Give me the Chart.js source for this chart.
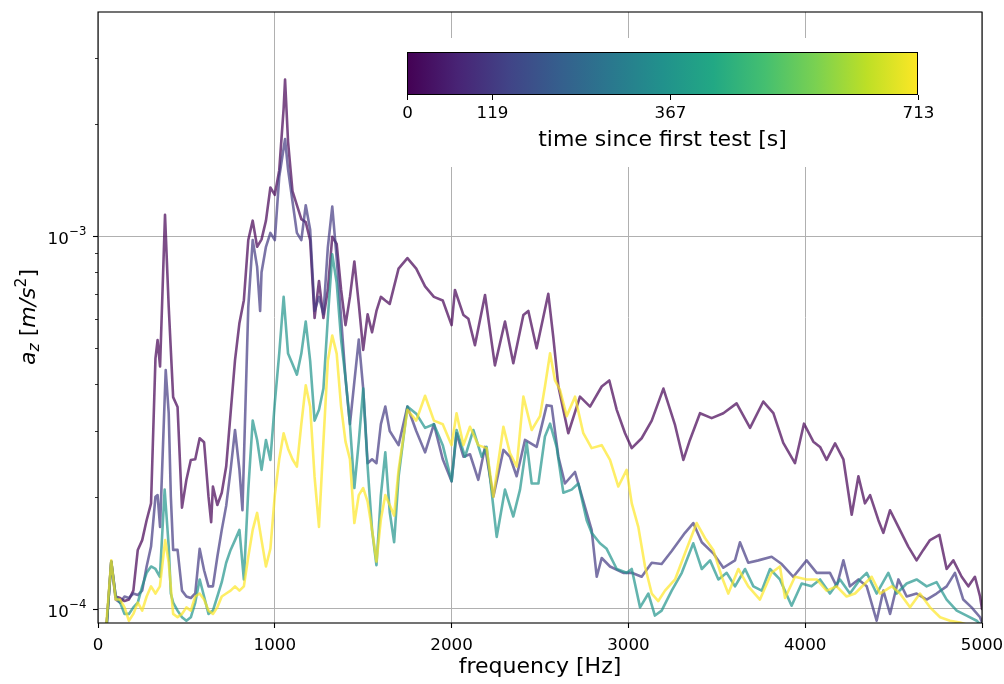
<!DOCTYPE html>
<html>
<head>
<meta charset="utf-8">
<script src="https://cdn.jsdelivr.net/npm/chart.js@4.4.1/dist/chart.umd.min.js"></script>
<style>
  html, body { margin: 0; padding: 0; background: #fff; }
</style>
</head>
<body>
<canvas id="c" width="1004" height="684"></canvas>
<script>
// time since first test [s] for each spectrum
var times = [0, 119, 367, 713];
var xTicks = [0, 1000, 2000, 3000, 4000, 5000];
var yTicks = [1e-4, 1e-3];

var freqT0 = [0,25,50,75,100,125,150,175,200,225,
  250,275,300,325,337,351,379,400,425,450,
  475,500,525,550,575,600,625,640,650,675,
  700,725,750,775,800,825,850,875,900,925,
  950,975,1000,1025,1050,1058,1075,1100,1125,1150,
  1175,1200,1225,1250,1275,1300,1325,1350,1375,1400,
  1425,1450,1475,1500,1525,1550,1575,1600,1625,1650,
  1700,1750,1800,1850,1900,1950,2000,2019,2067,2095,
  2132,2189,2245,2302,2349,2406,2434,2481,2547,2575,
  2604,2660,2726,2783,2849,2892,2934,2981,3019,3075,
  3132,3198,3264,3311,3348,3405,3471,3537,3612,3688,
  3763,3820,3876,3942,3993,4046,4084,4121,4169,4216,
  4263,4301,4338,4367,4414,4442,4480,4527,4583,4630,
  4668,4706,4759,4800,4838,4885,4923,4960,4989,5000];
var azT0 = [4e-5,6e-5,9.2e-5,1.34e-4,1.08e-4,1.07e-4,1.05e-4,1.06e-4,1.12e-4,1.44e-4,
  1.53e-4,1.73e-4,1.92e-4,4.7e-4,5.26e-4,4.47e-4,1.14e-3,6.46e-4,3.7e-4,3.48e-4,
  1.87e-4,2.22e-4,2.51e-4,2.52e-4,2.87e-4,2.8e-4,2.0e-4,1.71e-4,2.13e-4,1.9e-4,
  2.05e-4,2.41e-4,3.35e-4,4.65e-4,5.85e-4,6.73e-4,9.76e-4,1.1e-3,9.36e-4,9.8e-4,
  1.1e-3,1.35e-3,1.29e-3,1.5e-3,2.2e-3,2.63e-3,1.79e-3,1.32e-3,1.21e-3,1.11e-3,
  1.09e-3,9.75e-4,6.03e-4,7.58e-4,6.03e-4,7.18e-4,9.96e-4,9.53e-4,7.18e-4,5.77e-4,
  6.87e-4,8.55e-4,6.58e-4,4.95e-4,6.17e-4,5.52e-4,6.3e-4,6.87e-4,6.72e-4,6.58e-4,
  8.18e-4,8.73e-4,8.18e-4,7.33e-4,6.87e-4,6.72e-4,5.77e-4,7.17e-4,6.14e-4,6.0e-4,
  5.1e-4,6.95e-4,4.5e-4,5.9e-4,4.56e-4,6.14e-4,6.3e-4,5.0e-4,7.0e-4,5.37e-4,
  3.95e-4,2.96e-4,3.71e-4,3.49e-4,3.95e-4,4.1e-4,3.42e-4,2.96e-4,2.7e-4,2.87e-4,
  3.2e-4,3.9e-4,3.11e-4,2.51e-4,2.84e-4,3.35e-4,3.25e-4,3.35e-4,3.56e-4,3.06e-4,
  3.6e-4,3.35e-4,2.79e-4,2.46e-4,3.14e-4,2.81e-4,2.72e-4,2.51e-4,2.78e-4,2.52e-4,
  1.79e-4,2.27e-4,1.92e-4,2.02e-4,1.73e-4,1.6e-4,1.84e-4,1.66e-4,1.47e-4,1.35e-4,
  1.44e-4,1.53e-4,1.58e-4,1.28e-4,1.35e-4,1.22e-4,1.15e-4,1.22e-4,1.08e-4,1.0e-4];

var freqT119 = [0,25,50,75,100,125,150,175,200,225,
  250,275,300,325,337,351,383,400,412,425,
  450,475,500,525,550,575,600,625,650,675,
  700,725,750,775,800,817,850,875,900,917,
  925,950,975,1000,1025,1058,1075,1100,1125,1150,
  1175,1200,1225,1250,1275,1300,1325,1350,1375,1400,
  1425,1450,1475,1500,1525,1550,1575,1600,1625,1650,
  1700,1750,1800,1850,1900,1950,2000,2028,2067,2104,
  2151,2189,2236,2293,2330,2368,2415,2481,2538,2566,
  2604,2641,2698,2764,2792,2821,2849,2896,2971,3019,
  3075,3132,3188,3245,3320,3367,3415,3480,3537,3603,
  3631,3678,3735,3810,3867,3933,4008,4065,4140,4178,
  4216,4253,4301,4348,4404,4442,4480,4527,4574,4630,
  4687,4743,4800,4847,4894,4941,4989,5000];
var azT119 = [4e-5,6e-5,9.2e-5,1.34e-4,1.06e-4,1.04e-4,1.08e-4,1.07e-4,1.1e-4,1.09e-4,
  1.12e-4,1.3e-4,1.47e-4,2.0e-4,2.02e-4,1.66e-4,4.37e-4,3.35e-4,2.0e-4,1.44e-4,
  1.44e-4,1.12e-4,1.08e-4,1.07e-4,1.1e-4,1.45e-4,1.27e-4,1.15e-4,1.15e-4,1.38e-4,
  1.63e-4,1.89e-4,2.36e-4,3.02e-4,2.36e-4,1.84e-4,6.46e-4,9.76e-4,8.27e-4,6.3e-4,
  8.0e-4,9.36e-4,1.02e-3,9.75e-4,1.44e-3,1.82e-3,1.51e-3,1.24e-3,1.02e-3,9.75e-4,
  1.21e-3,1.04e-3,6.3e-4,6.87e-4,6.17e-4,9.33e-4,1.2e-3,8.73e-4,6.03e-4,4.16e-4,
  3.13e-4,4.07e-4,5.28e-4,3.9e-4,2.46e-4,2.52e-4,2.46e-4,3.13e-4,3.49e-4,3.0e-4,
  2.75e-4,3.49e-4,3.0e-4,2.63e-4,3.13e-4,2.52e-4,2.2e-4,2.96e-4,2.56e-4,2.6e-4,
  2.22e-4,2.72e-4,2.0e-4,2.67e-4,2.56e-4,2.27e-4,2.84e-4,2.72e-4,3.52e-4,3.5e-4,
  2.56e-4,2.17e-4,2.33e-4,1.81e-4,1.63e-4,1.22e-4,1.37e-4,1.3e-4,1.25e-4,1.25e-4,
  1.22e-4,1.33e-4,1.32e-4,1.43e-4,1.6e-4,1.7e-4,1.51e-4,1.41e-4,1.29e-4,1.35e-4,
  1.51e-4,1.33e-4,1.35e-4,1.38e-4,1.32e-4,1.22e-4,1.35e-4,1.25e-4,1.25e-4,1.15e-4,
  1.35e-4,1.15e-4,1.2e-4,1.15e-4,9.3e-5,1.12e-4,9.7e-5,1.2e-4,1.08e-4,1.1e-4,
  1.06e-4,1.1e-4,1.15e-4,1.25e-4,1.06e-4,1.01e-4,9.5e-5,9.2e-5];

var freqT367 = [0,25,50,75,100,125,150,175,200,225,
  250,275,300,325,350,377,400,412,425,450,
  475,500,525,550,575,600,625,650,675,700,
  725,750,775,800,825,850,875,900,925,950,
  975,1000,1025,1050,1075,1100,1125,1150,1175,1200,
  1225,1250,1275,1300,1325,1350,1375,1400,1425,1450,
  1475,1500,1525,1550,1575,1600,1625,1650,1675,1700,
  1750,1800,1850,1900,1950,2000,2028,2076,2123,2170,
  2198,2255,2302,2349,2387,2425,2453,2491,2528,2557,
  2594,2632,2679,2717,2764,2792,2839,2877,2934,2990,
  3019,3066,3113,3150,3188,3245,3302,3367,3415,3462,
  3509,3556,3603,3660,3707,3754,3801,3857,3923,3980,
  4036,4084,4140,4197,4253,4310,4348,4404,4470,4517,
  4574,4630,4687,4743,4800,4857,4913,4970,5000];
var azT367 = [4e-5,6e-5,9.2e-5,1.34e-4,1.08e-4,1.04e-4,9.7e-5,9.7e-5,1.01e-4,1.04e-4,
  1.15e-4,1.25e-4,1.3e-4,1.28e-4,1.22e-4,2.09e-4,1.47e-4,1.1e-4,1.04e-4,9.9e-5,
  9.5e-5,9.3e-5,9.5e-5,1.04e-4,1.2e-4,1.08e-4,9.7e-5,9.9e-5,1.08e-4,1.18e-4,
  1.33e-4,1.44e-4,1.53e-4,1.63e-4,1.2e-4,2.09e-4,3.2e-4,2.84e-4,2.36e-4,2.84e-4,
  2.51e-4,3.57e-4,4.84e-4,6.87e-4,4.84e-4,4.54e-4,4.25e-4,4.84e-4,5.9e-4,4.63e-4,
  3.2e-4,3.42e-4,3.9e-4,6.03e-4,8.93e-4,7.5e-4,5.28e-4,4.16e-4,3.13e-4,2.11e-4,
  2.81e-4,3.9e-4,2.41e-4,1.63e-4,1.31e-4,2.02e-4,2.63e-4,1.82e-4,1.51e-4,2.26e-4,
  3.49e-4,3.34e-4,3.06e-4,3.13e-4,2.75e-4,2.2e-4,3.02e-4,2.56e-4,3.02e-4,2.56e-4,
  2.72e-4,1.56e-4,2.09e-4,1.77e-4,2.09e-4,2.79e-4,2.17e-4,2.17e-4,2.9e-4,3.14e-4,
  2.72e-4,2.05e-4,2.09e-4,2.17e-4,1.73e-4,1.6e-4,1.5e-4,1.45e-4,1.28e-4,1.25e-4,
  1.28e-4,1.01e-4,1.1e-4,9.6e-5,9.9e-5,1.12e-4,1.25e-4,1.5e-4,1.28e-4,1.35e-4,
  1.2e-4,1.25e-4,1.15e-4,1.28e-4,1.15e-4,1.12e-4,1.28e-4,1.2e-4,1.02e-4,1.17e-4,
  1.15e-4,1.2e-4,1.1e-4,1.2e-4,1.1e-4,1.2e-4,1.25e-4,1.1e-4,1.25e-4,1.1e-4,
  1.17e-4,1.2e-4,1.15e-4,1.18e-4,1.06e-4,9.9e-5,9.6e-5,9.3e-5,9.0e-5];

var freqT713 = [0,25,50,75,100,125,150,175,200,225,
  250,275,300,325,350,380,400,425,450,475,
  500,525,550,575,600,625,650,675,700,725,
  750,775,800,825,850,875,900,925,950,975,
  1000,1025,1050,1075,1100,1125,1150,1175,1200,1225,
  1250,1275,1300,1325,1350,1375,1400,1425,1450,1475,
  1500,1525,1550,1575,1600,1625,1650,1675,1700,1750,
  1800,1850,1900,1950,2000,2028,2067,2104,2151,2198,
  2236,2293,2330,2368,2406,2453,2500,2528,2557,2585,
  2613,2651,2698,2745,2792,2849,2896,2943,2990,3019,
  3056,3094,3132,3169,3207,3264,3320,3386,3433,3480,
  3528,3565,3622,3678,3744,3810,3857,3886,3942,4008,
  4065,4121,4178,4234,4282,4376,4423,4489,4536,4593,
  4649,4706,4763,4819,4876,4940,5000];
var azT713 = [4e-5,6e-5,9.5e-5,1.35e-4,1.06e-4,1.06e-4,1.01e-4,9.3e-5,9.7e-5,1.04e-4,
  9.9e-5,1.08e-4,1.15e-4,1.1e-4,1.15e-4,1.53e-4,1.33e-4,9.7e-5,9.5e-5,9.7e-5,
  1.01e-4,9.9e-5,1.08e-4,1.1e-4,1.06e-4,9.9e-5,9.7e-5,1.01e-4,1.08e-4,1.1e-4,
  1.12e-4,1.15e-4,1.12e-4,1.15e-4,1.38e-4,1.63e-4,1.81e-4,1.53e-4,1.3e-4,1.45e-4,
  2.02e-4,2.52e-4,2.96e-4,2.69e-4,2.52e-4,2.41e-4,3.13e-4,3.98e-4,3.49e-4,2.26e-4,
  1.66e-4,2.81e-4,4.63e-4,5.41e-4,4.84e-4,3.49e-4,2.81e-4,2.52e-4,1.7e-4,2.02e-4,
  2.11e-4,1.94e-4,1.63e-4,1.34e-4,1.74e-4,2.02e-4,1.9e-4,1.78e-4,2.36e-4,3.42e-4,
  3.2e-4,3.73e-4,3.2e-4,3.13e-4,2.75e-4,3.35e-4,2.75e-4,3.08e-4,2.75e-4,2.7e-4,
  2.0e-4,3.08e-4,2.62e-4,2.41e-4,3.71e-4,3.02e-4,3.29e-4,3.95e-4,4.85e-4,4.1e-4,
  3.87e-4,3.29e-4,3.71e-4,2.96e-4,2.7e-4,2.75e-4,2.51e-4,2.13e-4,2.36e-4,1.92e-4,
  1.66e-4,1.3e-4,1.1e-4,1.05e-4,1.12e-4,1.2e-4,1.41e-4,1.7e-4,1.55e-4,1.44e-4,
  1.22e-4,1.1e-4,1.28e-4,1.15e-4,1.06e-4,1.25e-4,1.3e-4,1.07e-4,1.22e-4,1.2e-4,
  1.2e-4,1.12e-4,1.15e-4,1.08e-4,1.1e-4,1.22e-4,1.1e-4,1.15e-4,1.1e-4,1.01e-4,
  1.1e-4,1.01e-4,9.5e-5,9.3e-5,9.2e-5,9.0e-5,8.5e-5];

var freqs = [freqT0, freqT119, freqT367, freqT713];
var spectra = [azT0, azT119, azT367, azT713];

// viridis colour map, 11 stops
var viridis = ['#440154','#482475','#414487','#355f8d','#2a788e','#21918c',
  '#22a884','#44bf70','#7ad151','#bddf26','#fde725'];

function hexRgb(h) {
  return [parseInt(h.slice(1,3),16), parseInt(h.slice(3,5),16), parseInt(h.slice(5,7),16)];
}
function viridisAt(t, alpha) {
  var p = Math.max(0, Math.min(1, t)) * 10;
  var i = Math.min(9, Math.floor(p)), f = p - i;
  var a = hexRgb(viridis[i]), b = hexRgb(viridis[i+1]);
  var c = a.map(function(v, k) { return Math.round(v + (b[k] - v) * f); });
  return 'rgba(' + c[0] + ',' + c[1] + ',' + c[2] + ',' + alpha + ')';
}

var tMax = times[times.length - 1];
var FONT = '"DejaVu Sans", sans-serif';

var datasets = times.map(function(t, i) {
  return {
    label: t + ' s',
    data: freqs[i].map(function(f, j) { return {x: f, y: spectra[i][j]}; }),
    borderColor: viridisAt(t / tMax, 0.7),
    borderWidth: 2.6,
    borderJoinStyle: 'round',
    borderCapStyle: 'round',
    pointRadius: 0,
    tension: 0,
    fill: false,
    order: times.length - i
  };
});

var decor = {
  id: 'decor',
  afterDatasetsDraw: function(chart) {
    var ctx = chart.ctx, a = chart.chartArea, y = chart.scales.y;
    ctx.save();

    // white backing of the colorbar inset
    ctx.fillStyle = '#fff';
    ctx.fillRect(385, 38, 560, 129);

    // frame
    ctx.strokeStyle = '#000';
    ctx.lineWidth = 1.1;
    ctx.strokeRect(a.left, a.top, a.right - a.left, a.bottom - a.top);

    // y ticks (major + minor) and labels
    [1e-4, 1e-3].forEach(function(d) {
      for (var k = 2; k <= 9; k++) {
        var v = k * d;
        if (v < y.min || v > y.max) continue;
        var py = Math.round(y.getPixelForValue(v)) + 0.5;
        ctx.lineWidth = 0.8;
        ctx.beginPath(); ctx.moveTo(a.left - 3, py); ctx.lineTo(a.left, py); ctx.stroke();
      }
    });
    yTicks.forEach(function(v) {
      var py = Math.round(y.getPixelForValue(v)) + 0.5;
      ctx.lineWidth = 1.1;
      ctx.beginPath(); ctx.moveTo(a.left - 5, py); ctx.lineTo(a.left, py); ctx.stroke();
      var exp = String(Math.round(Math.log10(v))).replace('-', '\u2212');
      ctx.fillStyle = '#000';
      ctx.textAlign = 'left';
      ctx.textBaseline = 'alphabetic';
      ctx.font = '16.7px ' + FONT;
      var w1 = ctx.measureText('10').width;
      ctx.font = '11.7px ' + FONT;
      var w2 = ctx.measureText(exp).width;
      var x0 = a.left - 12 - w1 - w2;
      ctx.font = '16.7px ' + FONT;
      ctx.fillText('10', x0, py + 7);
      ctx.font = '11.7px ' + FONT;
      ctx.fillText(exp, x0 + w1 + 0.5, py - 1.5);
    });

    // y axis label  a_z [m/s^2]
    ctx.save();
    ctx.translate(27, 317);
    ctx.rotate(-Math.PI / 2);
    var parts = [
      ['a', 'italic 22px ' + FONT, 0],
      ['z', 'italic 15.5px ' + FONT, 4],
      [' [', '22px ' + FONT, 0],
      ['m/s', 'italic 22px ' + FONT, 0],
      ['2', '15.5px ' + FONT, -9],
      [']', '22px ' + FONT, 0]
    ];
    var total = 0;
    parts.forEach(function(p) { ctx.font = p[1]; total += ctx.measureText(p[0]).width; });
    var cx = -total / 2;
    ctx.textAlign = 'left';
    ctx.textBaseline = 'alphabetic';
    parts.forEach(function(p) {
      ctx.font = p[1];
      ctx.fillText(p[0], cx, 8 + p[2]);
      cx += ctx.measureText(p[0]).width;
    });
    ctx.restore();

    // x axis label
    ctx.fillStyle = '#000';
    ctx.font = '22px ' + FONT;
    ctx.textAlign = 'center';
    ctx.textBaseline = 'middle';
    ctx.fillText('frequency [Hz]', (a.left + a.right) / 2, 667);

    // colorbar
    var cb = {l: 407, r: 918, t: 52, b: 95};
    var g = ctx.createLinearGradient(cb.l, 0, cb.r, 0);
    viridis.forEach(function(c, i) { g.addColorStop(i / 10, c); });
    ctx.fillStyle = g;
    ctx.fillRect(cb.l, cb.t, cb.r - cb.l, cb.b - cb.t);
    ctx.strokeStyle = '#000';
    ctx.lineWidth = 1;
    ctx.strokeRect(cb.l + 0.5, cb.t + 0.5, cb.r - cb.l - 1, cb.b - cb.t - 1);
    ctx.fillStyle = '#000';
    ctx.font = '16.7px ' + FONT;
    ctx.textBaseline = 'middle';
    times.forEach(function(t) {
      var px = Math.round(cb.l + t / tMax * (cb.r - cb.l)) + 0.5;
      ctx.beginPath(); ctx.moveTo(px, cb.b); ctx.lineTo(px, cb.b + 5); ctx.stroke();
      ctx.fillText(String(t), px, 114);
    });
    ctx.font = '22px ' + FONT;
    ctx.fillText('time since first test [s]', (cb.l + cb.r) / 2, 140);

    ctx.restore();
  }
};

var ctx = document.getElementById('c').getContext('2d');
var chart = new Chart(ctx, {
  type: 'line',
  data: { datasets: datasets },
  options: {
    responsive: false,
    animation: false,
    devicePixelRatio: 1,
    layout: { padding: { top: 12, right: 22, left: 0, bottom: 0 } },
    plugins: { legend: { display: false }, tooltip: { enabled: false } },
    scales: {
      x: {
        type: 'linear',
        min: 0,
        max: 5000,
        afterBuildTicks: function(s) { s.ticks = xTicks.map(function(v) { return {value: v}; }); },
        afterFit: function(s) { s.height = 61; s.paddingLeft = 0; s.paddingRight = 0; },
        border: { display: false },
        grid: { color: '#b0b0b0', lineWidth: 1, tickColor: '#000', tickLength: 5, tickWidth: 1.1 },
        ticks: {
          color: '#000',
          font: { family: FONT, size: 16.7 },
          padding: 8,
          maxRotation: 0,
          autoSkip: false,
          callback: function(v) { return String(v); }
        }
      },
      y: {
        type: 'logarithmic',
        min: 9.17e-5,
        max: 3.99e-3,
        afterBuildTicks: function(s) { s.ticks = yTicks.map(function(v) { return {value: v}; }); },
        afterFit: function(s) { s.width = 98; s.paddingTop = 0; s.paddingBottom = 0; },
        border: { display: false },
        grid: { color: '#b0b0b0', lineWidth: 1, drawTicks: false },
        ticks: { display: false }
      }
    }
  },
  plugins: [decor]
});
</script>
</body>
</html>
